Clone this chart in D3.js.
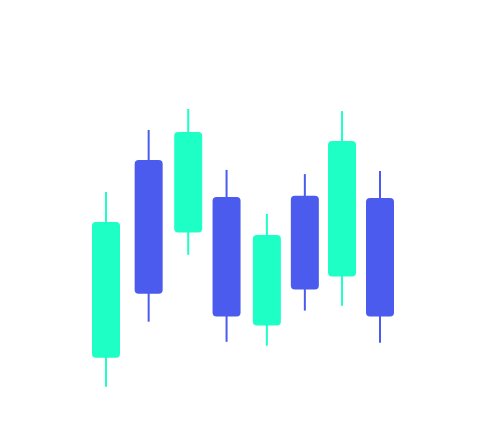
<!DOCTYPE html>
<html>
<head>
<meta charset="utf-8">
<script src="https://cdn.jsdelivr.net/npm/d3@7"></script>
<style>
  html, body { margin: 0; padding: 0; background: #ffffff; }
  svg { display: block; }
</style>
</head>
<body>
<svg></svg>
<script>
  const width = 504,
        height = 441,
        bodyW = 28,                 // candle body width
        wickW = 2,                  // wick stroke
        radius = 4;                 // body corner radius

  const upColor = "#1effc6",        // rising candle
        downColor = "#4b5bed";      // falling candle

  // one entry per candle (t = time position, not evenly spaced)
  const t     = [0, 1.09, 2.1, 3.08, 4.11, 5.08, 6.03, 7];
  const open  = [14.1, 80.0, 55.8, 67.7, 24.8, 68.1, 41.2, 67.3];
  const close = [59.3, 35.4, 89.3, 27.8, 55.0, 36.8, 86.3, 27.8];
  const high  = [69.3, 90.0, 97.0, 76.7, 62.0, 75.3, 96.3, 76.3];
  const low   = [4.4, 26.1, 48.4, 19.4, 18.1, 29.8, 31.4, 19.1];

  const data = t.map((d, i) => ({
    t: d, open: open[i], close: close[i], high: high[i], low: low[i]
  }));

  const svg = d3.select("svg")
    .attr("width", width)
    .attr("height", height);

  const x = d3.scaleLinear()
    .domain([0, 7])
    .range([106, 380]);

  const y = d3.scaleLinear()
    .domain([0, 100])
    .range([400, 100]);

  const color = d => d.close >= d.open ? upColor : downColor;

  const g = svg.selectAll("g.candle")
    .data(data)
    .enter().append("g")
    .attr("class", "candle");

  g.append("line")
    .attr("x1", d => x(d.t))
    .attr("x2", d => x(d.t))
    .attr("y1", d => y(d.high))
    .attr("y2", d => y(d.low))
    .attr("stroke", color)
    .attr("stroke-width", wickW);

  g.append("rect")
    .attr("x", d => x(d.t) - bodyW / 2)
    .attr("y", d => y(Math.max(d.open, d.close)))
    .attr("width", bodyW)
    .attr("height", d => Math.abs(y(d.open) - y(d.close)))
    .attr("rx", radius)
    .attr("ry", radius)
    .attr("fill", color);
</script>
</body>
</html>
